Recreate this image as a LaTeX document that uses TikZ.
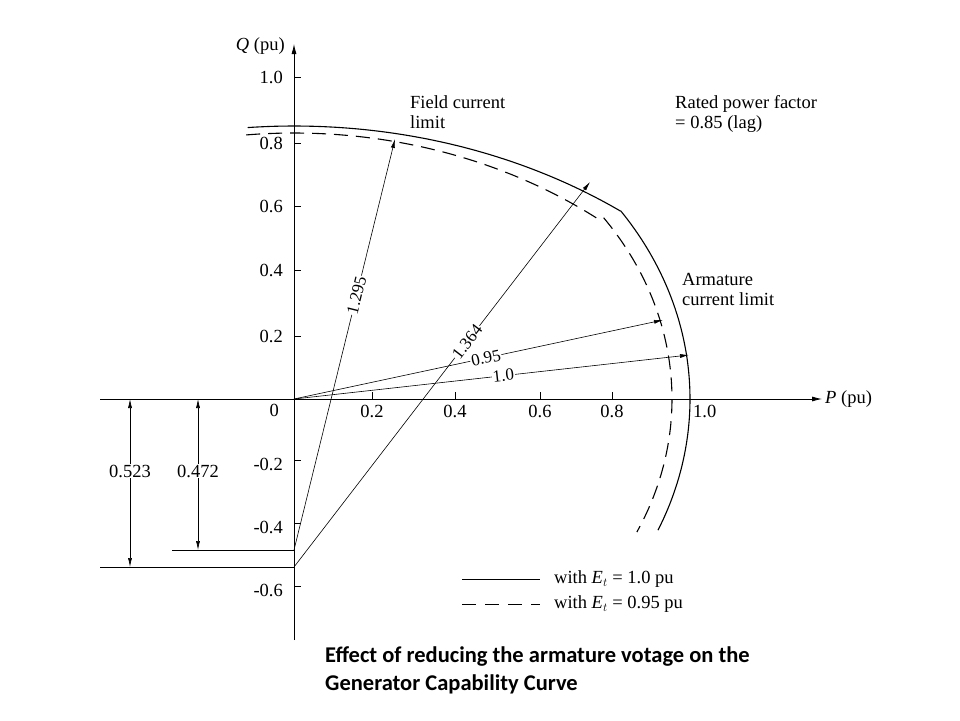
\documentclass[tikz,border=0pt]{standalone}
\usepackage{fontspec}
\setmainfont{Liberation Serif}
\newfontfamily\capfont{Carlito}
\usetikzlibrary{arrows.meta}
\begin{document}
\begin{tikzpicture}[x=1pt,y=-1pt,
  lbl/.style={font=\fontsize{18.5}{20}\selectfont, inner sep=1pt},
  slbl/.style={font=\fontsize{17}{17}\selectfont, inner sep=1pt, fill=white, sloped},
  tk/.style={line width=0.5pt},
  ax/.style={line width=0.8pt},
  curve/.style={line width=1.1pt},
  dcurve/.style={line width=1.1pt, dash pattern=on 14pt off 8pt},
  arr/.style={line width=0.6pt,-{Latex[length=9pt,width=4pt]}},
  dim/.style={line width=0.6pt,{Latex[length=9pt,width=4pt]}-{Latex[length=9pt,width=4pt]}}]
\useasboundingbox (0,0) rectangle (960,720);
\fill[white] (0,0) rectangle (960,720);
\coordinate (O) at (294,399);
\coordinate (C1) at (294,567);
\coordinate (C2) at (294,550);
% axes
\coordinate (xl) at (100,399); \coordinate (xr) at (822,399);
\coordinate (yb) at (294,640); \coordinate (yt) at (294,44);
\draw[ax,-{Latex[length=10pt,width=5pt]}] (xl) -- (xr);
\draw[ax,-{Latex[length=10pt,width=5pt]}] (yb) -- (yt);
\node[lbl,anchor=west] (pl) at (824,399) {\textit{P} (pu)};
\node[lbl,anchor=east] (ql) at (286,46) {\textit{Q} (pu)};
% y ticks
\foreach \y/\t in {77/1.0,143/0.8,206/0.6,270/0.4,336/0.2}{
  \draw[tk] (294,\y) -- (301,\y);
  \node[lbl,anchor=east] at (284,\y) {\t};}
\foreach \y/\t in {464/-0.2,527/-0.4,590/-0.6}{
  \draw[tk] (294,\y-4) -- (301,\y-4);
  \node[lbl,anchor=east] at (284,\y) {\t};}
\node[lbl,anchor=east] at (280,410) {0};
% x ticks
\foreach \x/\t in {372/0.2,455/0.4,540/0.6,612/0.8}{
  \draw[tk] (\x,399) -- (\x,392);
  \node[lbl] at (\x,411) {\t};}
\node[lbl,anchor=west] at (692,411) {1.0};
% curves solid
\draw[curve] plot[domain=94.8:53.8,samples=60,smooth] ({294+553*cos(\x)},{567-441*sin(\x)});
\draw[curve] plot[domain=34.4:-23.2,samples=60,smooth] ({294+396*cos(\x)},{399-333*sin(\x)});
% dashed
\draw[dcurve] plot[domain=95.5:52.3,samples=60,smooth] ({294+500*cos(\x)},{550-417*sin(\x)});
\draw[dcurve] plot[domain=35:-24.9,samples=60,smooth] ({294+378*cos(\x)},{399-316*sin(\x)});
% radius arrows
\coordinate (a1) at (395,139); \coordinate (a2) at (590,182);
\coordinate (a3) at (663,320); \coordinate (a4) at (689,355);
\draw[arr] (C2) -- (a1) node[pos=0.62,slbl] {1.295};
\draw[arr] (C1) -- (a2) node[pos=0.585,slbl] {1.364};
\draw[arr] (O) -- (a3) node[pos=0.52,slbl] {0.95};
\draw[arr] (O) -- (a4) node[pos=0.53,slbl] {1.0};
\draw[line width=0.6pt] (C2) -- (O);
% lower lines
\coordinate (h1l) at (100,567); \coordinate (h2l) at (172,550);
\draw[line width=0.8pt] (h1l) -- (C1);
\draw[line width=0.8pt] (h2l) -- (C2);
\draw[dim] (130,399) -- (130,567);
\draw[dim] (198,399) -- (198,550);
\node[lbl,fill=white] at (130,471) {0.523};
\node[lbl,fill=white] at (198,471) {0.472};
% labels
\node[lbl,anchor=north west,align=left] (fl) at (409,94) {Field current\\limit};
\node[lbl,anchor=north west,align=left] (rp) at (674,94) {Rated power factor\\= 0.85 (lag)};
\node[lbl,anchor=north west,align=left] (al) at (681,272) {Armature\\current limit};
% legend
\draw[line width=0.8pt] (462,579) -- (540,579);
\draw[line width=0.8pt,dash pattern=on 14pt off 9pt] (462,604) -- (540,604);
\node[lbl,anchor=west] at (553,579) {with \textit{E}$_t$ = 1.0 pu};
\node[lbl,anchor=west] at (553,604) {with \textit{E}$_t$ = 0.95 pu};
% caption
\node[anchor=north west,align=left,font=\capfont\bfseries\fontsize{22.5}{28}\selectfont,inner sep=0] (cap) at (325,646) {Effect of reducing the armature votage on the\\Generator Capability Curve};
\end{tikzpicture}
\end{document}
